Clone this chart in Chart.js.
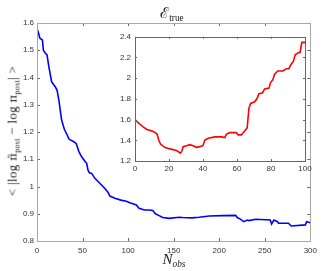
<!DOCTYPE html>
<html>
<head>
<meta charset="utf-8">
<script src="https://cdn.jsdelivr.net/npm/chart.js@4.4.0/dist/chart.umd.min.js"></script>
<style>
  body { margin: 0; background: #fff; }
  #wrap { position: relative; width: 322px; height: 271px; overflow: hidden; }
  #mainBox { position: absolute; left: 0; top: 0; width: 322px; height: 271px; }
  #insetBox { position: absolute; left: 110px; top: 28px; width: 205px; height: 150px; }
  .lbl { position: absolute; font-family: "Liberation Serif", "DejaVu Serif", serif; color: #222; white-space: nowrap; }
  .lbl sub { font-size: 0.62em; vertical-align: -0.35em; }
  .pi { font-family: "DejaVu Serif", serif; font-size: 0.9em; }
  #title { left: 172px; top: 2px; transform: translateX(-50%); font-size: 15px; }
  #xlab { left: 174px; top: 251px; transform: translateX(-50%); font-size: 15px; font-style: italic; }
  #ylab { left: 13px; top: 131px; transform: translate(-50%, -50%) rotate(-90deg); font-size: 13px; letter-spacing: 0.3px; }
</style>
</head>
<body>
<div id="wrap">
  <div id="mainBox"><canvas id="mainChart"></canvas></div>
  <div id="insetBox"><canvas id="insetChart"></canvas></div>
  <div class="lbl" id="title">&#8496;<sub>true</sub></div>
  <div class="lbl" id="xlab">N<sub>obs</sub></div>
  <div class="lbl" id="ylab">&lt; |log <span class="pi">&#960;&#771;</span><sub>post</sub> &#8722; log <span class="pi">&#960;</span><sub>post</sub>| &gt;</div>
</div>
<script>
// main curve: mean error vs number of observations
const nObs = [0, 2, 3, 6, 7, 9, 11, 13, 16, 18, 20, 22, 24, 27, 30, 33, 35, 36, 40, 43,
  46, 49, 53, 54.5, 56, 57.5, 60, 63.5, 69, 74.5, 78, 80, 85.5, 92, 98, 102, 109, 112, 118, 123,
  127, 130, 134, 138, 145, 156, 160, 170, 178, 189, 204, 218, 220, 222, 227, 231, 233, 240, 256, 257.5,
  260, 264, 265, 276, 279, 294.5, 296, 300];
const errMain = [1.58, 1.56, 1.545, 1.537, 1.50, 1.49, 1.483, 1.44, 1.385, 1.375, 1.366, 1.354, 1.317, 1.244, 1.21, 1.19, 1.175, 1.172, 1.165, 1.158,
  1.128, 1.109, 1.091, 1.085, 1.06, 1.05, 1.048, 1.03, 1.012, 0.993, 0.978, 0.965, 0.957, 0.950, 0.946, 0.94, 0.932, 0.92, 0.914, 0.914,
  0.912, 0.90, 0.893, 0.886, 0.883, 0.887, 0.886, 0.885, 0.887, 0.892, 0.893, 0.894, 0.885, 0.883, 0.871, 0.877, 0.875, 0.88, 0.877, 0.862,
  0.877, 0.871, 0.865, 0.865, 0.855, 0.859, 0.871, 0.867];

// inset curve
const nInset = [0, 3, 5, 7, 10, 12, 13, 14, 15, 17.5, 20.5, 24.4, 26.8, 27.7, 28.3, 30.3, 32.3, 34.2, 36.2, 38.1,
  40, 41, 43, 47, 51, 52.8, 53.8, 55.7, 59.6, 60.6, 62.6, 64.5, 66, 67, 68, 70.4, 71.8, 72.9, 74.9, 76.3,
  78.8, 79.8, 81.1, 82.1, 84, 87, 89, 90.5, 91.8, 93.2, 94.2, 96.3, 97.1, 98.1, 100];
const errInset = [1.60, 1.553, 1.527, 1.505, 1.49, 1.474, 1.458, 1.40, 1.364, 1.332, 1.317, 1.301, 1.276, 1.301, 1.339, 1.348, 1.358, 1.348, 1.332, 1.339,
  1.348, 1.40, 1.42, 1.433, 1.433, 1.426, 1.458, 1.474, 1.474, 1.452, 1.452, 1.49, 1.52, 1.709, 1.756, 1.772, 1.803, 1.85, 1.857, 1.897,
  1.904, 1.96, 1.986, 2.038, 2.07, 2.07, 2.092, 2.092, 2.133, 2.164, 2.227, 2.249, 2.249, 2.346, 2.346];

const mainXTicks = [0, 50, 100, 150, 200, 250, 300];
const mainYTicks = [0.8, 0.9, 1, 1.1, 1.2, 1.3, 1.4, 1.5, 1.6];
const insetXTicks = [0, 20, 40, 60, 80, 100];
const insetYTicks = [1.2, 1.4, 1.6, 1.8, 2, 2.2, 2.4];

function toPoints(xs, ys) {
    return xs.map((x, i) => ({ x: x, y: ys[i] }));
}

// matlab style box with ticks pointing inwards
const boxTicks = {
    id: 'boxTicks',
    beforeDraw(chart, args, opts) {
        if (!opts.fill) return;
        const { ctx, chartArea: a } = chart;
        ctx.save();
        ctx.fillStyle = opts.fill;
        ctx.fillRect(a.left, a.top, a.right - a.left, a.bottom - a.top);
        ctx.restore();
    },
    afterDraw(chart, args, opts) {
        const { ctx, chartArea: a, scales: { x, y } } = chart;
        const len = opts.len || 3;
        ctx.save();
        ctx.lineWidth = 1;
        ctx.strokeStyle = opts.tickColor;
        ctx.beginPath();
        opts.xTicks.forEach(v => {
            const px = Math.round(x.getPixelForValue(v)) + 0.5;
            ctx.moveTo(px, a.bottom); ctx.lineTo(px, a.bottom - len);
            ctx.moveTo(px, a.top); ctx.lineTo(px, a.top + len);
        });
        opts.yTicks.forEach(v => {
            const py = Math.round(y.getPixelForValue(v)) + 0.5;
            ctx.moveTo(a.left, py); ctx.lineTo(a.left + len, py);
            ctx.moveTo(a.right, py); ctx.lineTo(a.right - len, py);
        });
        ctx.stroke();
        ctx.strokeStyle = opts.color;
        ctx.strokeRect(Math.round(a.left) + 0.5, Math.round(a.top) + 0.5,
            Math.round(a.right - a.left), Math.round(a.bottom - a.top));
        ctx.restore();
    }
};

function axis(min, max, step, pad, size) {
    return {
        type: 'linear', min: min, max: max,
        grid: { display: false, drawTicks: false },
        border: { display: false },
        ticks: {
            stepSize: step, padding: pad, color: '#333',
            font: { family: 'Liberation Sans', size: 8 },
            callback: v => +v.toFixed(1)
        },
        afterFit: s => { if (s.isHorizontal()) s.height = size; else s.width = size; }
    };
}

new Chart(document.getElementById('mainChart'), {
    type: 'line',
    data: {
        datasets: [{
            data: toPoints(nObs, errMain),
            borderColor: '#0000ff', borderWidth: 1.6,
            pointRadius: 0, tension: 0, fill: false
        }]
    },
    options: {
        responsive: true, maintainAspectRatio: false, animation: false,
        layout: { padding: { top: 23, right: 10, left: 0, bottom: 0 } },
        plugins: {
            legend: { display: false }, tooltip: { enabled: false },
            boxTicks: { color: '#a8a8a8', tickColor: '#666', len: 3, xTicks: mainXTicks, yTicks: mainYTicks }
        },
        scales: {
            x: axis(0, 300, 50, 5, 30),
            y: axis(0.8, 1.6, 0.1, 3, 37)
        }
    },
    plugins: [boxTicks]
});

new Chart(document.getElementById('insetChart'), {
    type: 'line',
    data: {
        datasets: [{
            data: toPoints(nInset, errInset),
            borderColor: '#ff0000', borderWidth: 1.6,
            pointRadius: 0, tension: 0, fill: false
        }]
    },
    options: {
        responsive: true, maintainAspectRatio: false, animation: false,
        layout: { padding: { top: 5, right: 10, left: 0, bottom: 0 } },
        plugins: {
            legend: { display: false }, tooltip: { enabled: false },
            boxTicks: { color: '#666', tickColor: '#666', len: 2, fill: '#fff', xTicks: insetXTicks, yTicks: insetYTicks }
        },
        scales: {
            x: axis(0, 100, 20, 3, 17),
            y: axis(1.2, 2.4, 0.2, 4, 25)
        }
    },
    plugins: [boxTicks]
});
</script>
</body>
</html>
